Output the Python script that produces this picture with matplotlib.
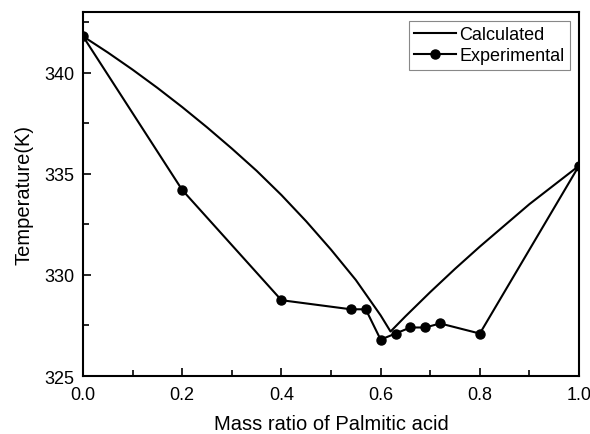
import numpy as np
import matplotlib.pyplot as plt

plt.rcParams['font.family'] = ['Liberation Sans', 'DejaVu Sans']

# calculated liquidus
calc_x = [0.0, 0.05, 0.1, 0.15, 0.2, 0.25, 0.3, 0.35, 0.4, 0.45, 0.5, 0.55, 0.6, 0.62,
          0.65, 0.7, 0.75, 0.8, 0.85, 0.9, 0.95, 1.0]
calc_t = [341.8, 341.0, 340.15, 339.25, 338.3, 337.3, 336.25, 335.15, 333.95, 332.65, 331.25, 329.75, 328.0, 327.2,
          327.95, 329.15, 330.3, 331.4, 332.45, 333.5, 334.45, 335.4]

# experimental points
exp_x = [0.0, 0.2, 0.4, 0.54, 0.57, 0.60, 0.63, 0.66, 0.69, 0.72, 0.80, 1.0]
exp_t = [341.8, 334.2, 328.75, 328.3, 328.3, 326.8, 327.1, 327.4, 327.4, 327.6, 327.1, 335.4]

fig = plt.figure(figsize=(5.9, 4.35), dpi=100)
ax = fig.add_axes([0.1407, 0.1333, 0.8407, 0.8367])

ax.plot(calc_x, calc_t, color='k', linewidth=1.5, label='Calculated')
ax.plot(exp_x, exp_t, color='k', linewidth=1.5, marker='o', markersize=6.5, label='Experimental')

ax.set_xlim(0, 1.0)
ax.set_ylim(325, 343)
ax.set_xticks(np.arange(0, 1.01, 0.2))
ax.set_xticks(np.arange(0.1, 1.0, 0.2), minor=True)
ax.set_yticks([325, 330, 335, 340])
ax.set_yticks([327.5, 332.5, 337.5, 342.5], minor=True)
ax.xaxis.set_major_formatter(plt.FormatStrFormatter('%.1f'))
ax.tick_params(which='both', direction='in', labelsize=13, width=1.2)
ax.tick_params(axis='x', which='major', pad=7)
ax.tick_params(axis='y', which='major', pad=6)
ax.tick_params(which='major', length=6)
ax.tick_params(which='minor', length=4)
for s in ax.spines.values():
    s.set_linewidth(1.5)

ax.set_xlabel('Mass ratio of Palmitic acid', fontsize=14.5, labelpad=8)
ax.set_ylabel('Temperature(K)', fontsize=14.5, labelpad=8)

leg = ax.legend(loc='upper right', fontsize=13, fancybox=False, framealpha=1,
                edgecolor='#888888', handlelength=2.3, handletextpad=0.2,
                borderpad=0.3, labelspacing=0.2, borderaxespad=0.5)
leg.get_frame().set_linewidth(0.8)

fig.savefig('out.png', dpi=100)
